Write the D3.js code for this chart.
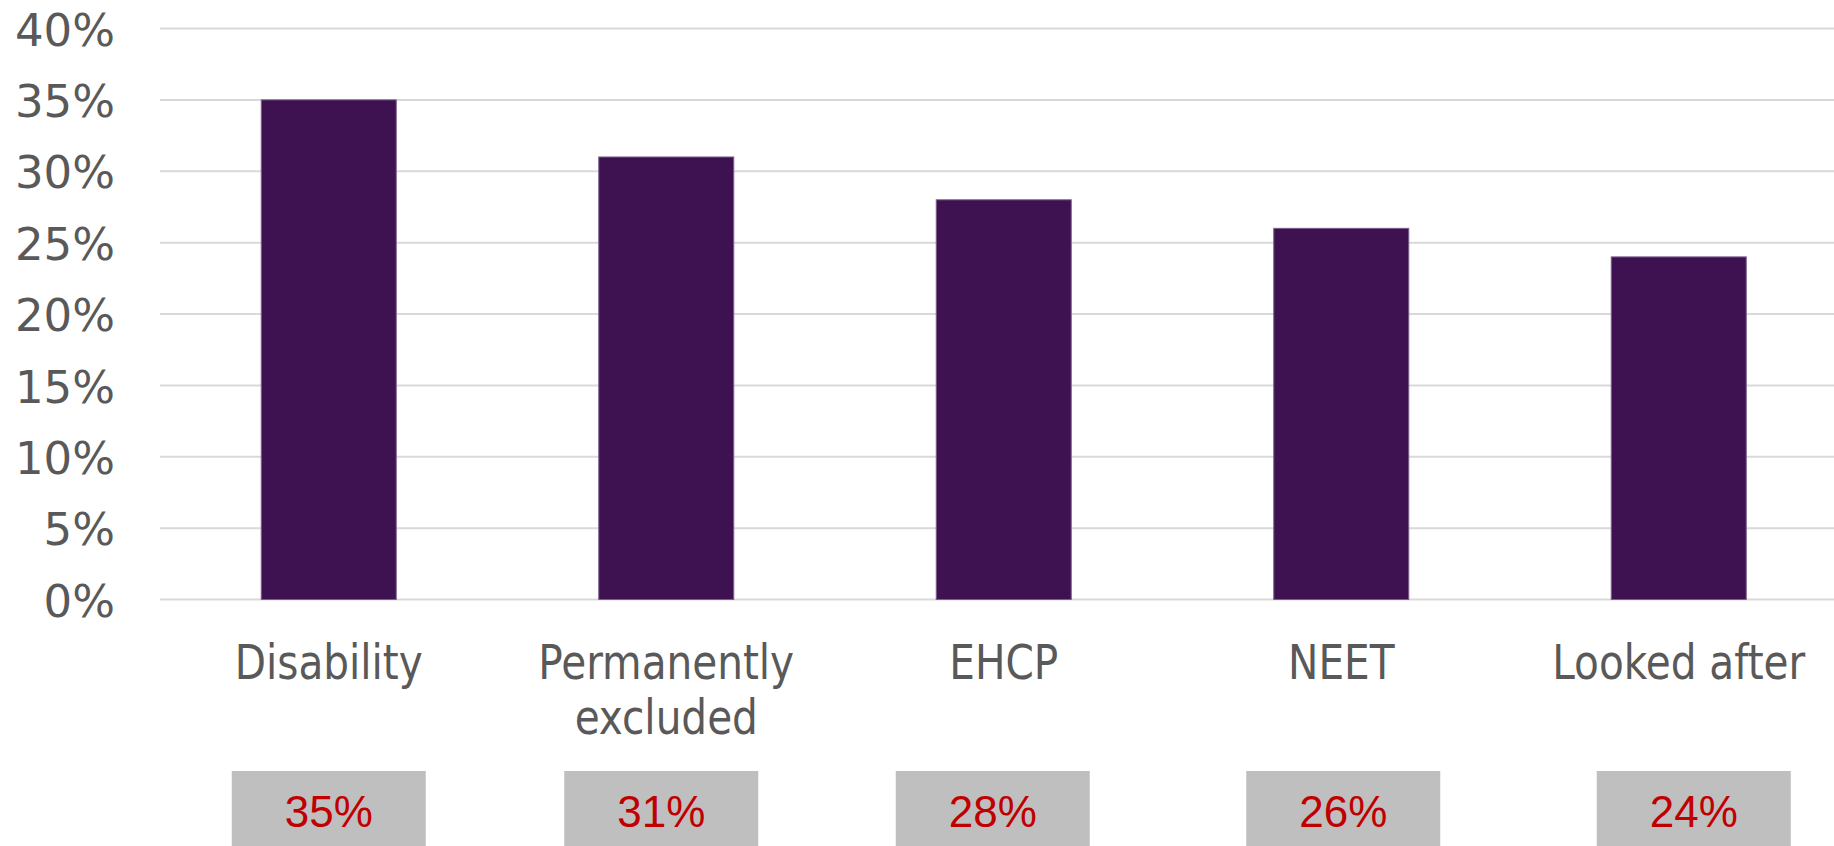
<!DOCTYPE html>
<html>
<head>
<meta charset="utf-8">
<script src="https://cdn.jsdelivr.net/npm/d3@7"></script>
<style>
  html, body { margin: 0; padding: 0; background: #ffffff; }
  svg { display: block; }
</style>
</head>
<body>
<svg id="chart" width="1834" height="846"></svg>
<script>
// Share of young people in each group
const categories = ["Disability", "Permanently excluded", "EHCP", "NEET", "Looked after"];
const categoryLines = [["Disability"], ["Permanently", "excluded"], ["EHCP"], ["NEET"], ["Looked after"]];
const values = [0.35, 0.31, 0.28, 0.26, 0.24];
const yTicks = [0, 0.05, 0.10, 0.15, 0.20, 0.25, 0.30, 0.35, 0.40];

const W = 1834, H = 846;
const plot = { left: 160, right: 1847.5, top: 28.5, bottom: 599.5 };

const svg = d3.select("#chart");

const x = d3.scaleBand()
  .domain(categories)
  .range([plot.left, plot.right])
  .paddingInner(0.6)
  .paddingOuter(0.3);

const y = d3.scaleLinear()
  .domain([0, 0.4])
  .range([plot.bottom, plot.top]);

const pct = d3.format(".0%");

// horizontal gridlines
svg.append("g")
  .selectAll("line")
  .data(yTicks)
  .join("line")
  .attr("x1", plot.left)
  .attr("x2", W)
  .attr("y1", d => y(d))
  .attr("y2", d => y(d))
  .attr("stroke", "#d9d9d9")
  .attr("stroke-width", 2);

// y axis labels
const yAxis = d3.axisLeft(y).tickValues(yTicks).tickFormat(pct).tickSize(0).tickPadding(0);
const yg = svg.append("g")
  .attr("transform", `translate(115,0)`)
  .call(yAxis);
yg.select(".domain").remove();
yg.selectAll("text")
  .attr("fill", "#595959")
  .attr("font-family", "'DejaVu Sans', Verdana, sans-serif")
  .attr("font-size", 45)
  .attr("dy", "0.37em");

// bars
svg.append("g")
  .selectAll("rect")
  .data(values)
  .join("rect")
  .attr("x", (d, i) => x(categories[i]))
  .attr("width", x.bandwidth())
  .attr("y", d => y(d))
  .attr("height", d => y(0) - y(d))
  .attr("fill", "#3e1250")
  .attr("stroke", "#7d5f8c")
  .attr("stroke-width", 1);

// category labels under the axis
const catG = svg.append("g")
  .attr("font-family", "'DejaVu Sans Condensed', 'DejaVu Sans', sans-serif")
  .attr("font-size", 47)
  .attr("fill", "#595959")
  .attr("text-anchor", "middle");

categoryLines.forEach((lines, i) => {
  const cx = x(categories[i]) + x.bandwidth() / 2;
  const t = catG.append("text")
    .attr("transform", `translate(${cx},679) scale(0.96,1.02)`);
  lines.forEach((ln, j) => {
    t.append("tspan")
      .attr("x", 0)
      .attr("y", j * 54)
      .text(ln);
  });
});

// value boxes along the bottom
const boxNudge = [0, -5, -11, 2, 15];
const boxW = 194, boxTop = 771;
const boxG = svg.append("g");
values.forEach((v, i) => {
  const cx = x(categories[i]) + x.bandwidth() / 2 + boxNudge[i];
  boxG.append("rect")
    .attr("x", cx - boxW / 2)
    .attr("y", boxTop)
    .attr("width", boxW)
    .attr("height", H - boxTop + 10)
    .attr("fill", "#bfbfbf");
  boxG.append("text")
    .attr("x", cx)
    .attr("y", 827)
    .attr("text-anchor", "middle")
    .attr("font-family", "'Liberation Sans', Arial, sans-serif")
    .attr("font-size", 44)
    .attr("fill", "#c00000")
    .text(pct(v));
});
</script>
</body>
</html>
